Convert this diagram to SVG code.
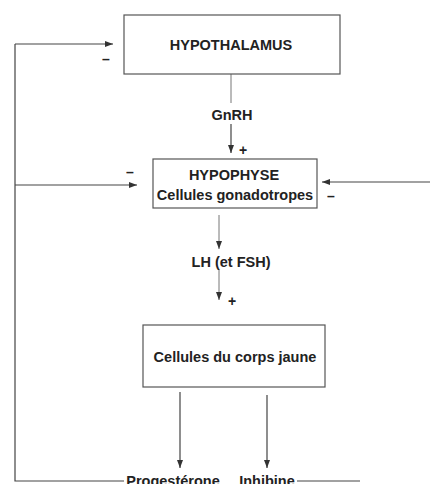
<svg xmlns="http://www.w3.org/2000/svg" width="430" height="484" viewBox="0 0 430 484">
<defs>
<marker id="ah" markerWidth="8" markerHeight="6" refX="8" refY="3" orient="auto" markerUnits="userSpaceOnUse">
<path d="M0,0 L8,3 L0,6 Z" fill="#333"/>
</marker>
<style>
.box{fill:#fff;stroke:#555;stroke-width:1.2}
.t{font-family:"Liberation Sans",Arial,sans-serif;font-weight:bold;font-size:14.5px;fill:#222;text-anchor:middle}
.s{font-family:"Liberation Sans",Arial,sans-serif;font-weight:bold;font-size:14px;fill:#222;text-anchor:middle}
.ln{stroke:#444;stroke-width:1.2;fill:none}
.lt{stroke:#777;stroke-width:1;fill:none}
.a{marker-end:url(#ah)}
</style>
</defs>
<rect width="430" height="484" fill="#fff"/>
<g id="connectors">
<path class="lt" d="M231,74 V103"/>
<path class="ln a" d="M231,124 V153"/>
<path class="lt a" d="M219,215 V249"/>
<path class="lt a" d="M219,270 V300"/>
<path class="ln a" d="M180,392 V468"/>
<path class="ln a" d="M267,395 V468"/>
<path class="ln" d="M124,481 H15 V44"/>
<path class="ln a" d="M15,44 H113"/>
<path class="ln a" d="M15,185 H137"/>
<path class="ln a" d="M430,182 H322"/>
<path class="ln" d="M297,481 H360"/>
<text class="s" x="243" y="155">+</text>
<text class="s" x="232" y="306">+</text>
<text class="s" x="106" y="64">–</text>
<text class="s" x="130" y="177">–</text>
<text class="s" x="331" y="201">–</text>
<text class="t" x="232" y="120">GnRH</text>
<text class="t" x="231" y="267">LH (et FSH)</text>
<text class="t" x="173" y="486">Progestérone</text>
<text class="t" x="267" y="486">Inhibine</text>
</g>
<g id="hypothalamus">
<rect class="box" x="124" y="15" width="216" height="59"/>
<text class="t" x="231" y="50">HYPOTHALAMUS</text>
</g>
<g id="hypophyse">
<rect class="box" x="153" y="159" width="164" height="49"/>
<text class="t" x="234" y="180">HYPOPHYSE</text>
<text class="t" x="235" y="200">Cellules gonadotropes</text>
</g>
<g id="corps-jaune">
<rect class="box" x="143" y="325" width="182" height="62"/>
<text class="t" x="235" y="362">Cellules du corps jaune</text>
</g>
</svg>
